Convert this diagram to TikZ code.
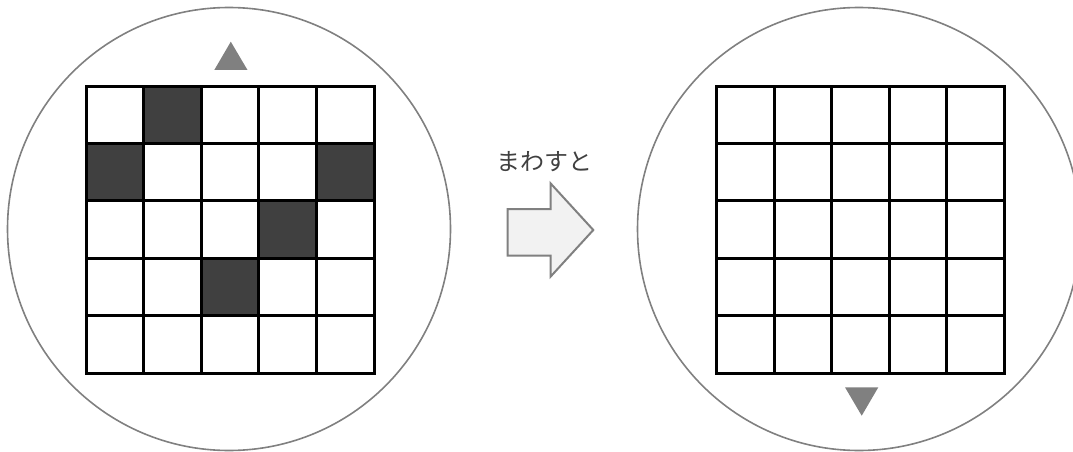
\documentclass[tikz,border=0pt]{standalone}
\usepackage{fontspec}
\newfontfamily\jpfont{Noto Sans CJK JP}
\definecolor{ringgray}{HTML}{808080}
\definecolor{cellgray}{HTML}{404040}
\definecolor{arrowfill}{HTML}{F2F2F2}
\definecolor{textgray}{HTML}{404040}
\begin{document}
\begin{tikzpicture}[x=1pt,y=-1pt,
  ring/.style={draw=ringgray,line width=1.6pt},
  gridline/.style={draw=black,line width=3pt,line cap=rect},
  darkcell/.style={fill=cellgray},
  marker/.style={fill=ringgray},
  bigarrow/.style={draw=ringgray,fill=arrowfill,line width=2pt,line join=miter}]
\useasboundingbox (0,0) rectangle (1073,452);
\begin{scope}
\clip (0,0) rectangle (1073,452);
% circles
\draw[ring] (229,229) circle (221.5);
\draw[ring] (859,229) circle (221.5);
% dark cells left grid
\foreach \r/\c in {0/1,1/0,1/4,2/3,3/2}{
  \fill[darkcell] (86+\c*57.6,86+\r*57.4) rectangle ++(57.6,57.4);
}
% left grid
\foreach \i in {0,...,5}{
  \draw[gridline] (86+\i*57.6,86) -- (86+\i*57.6,373);
  \draw[gridline] (86,86+\i*57.4) -- (374,86+\i*57.4);
}
% right grid
\foreach \i in {0,...,5}{
  \draw[gridline] (716.5+\i*57.5,86) -- (716.5+\i*57.5,373);
  \draw[gridline] (716.5,86+\i*57.4) -- (1004,86+\i*57.4);
}
% markers
\fill[marker] (214.3,70) -- (230.8,41.7) -- (247.5,70) -- cycle;
\fill[marker] (845,387.3) -- (861.7,415.7) -- (878.3,387.3) -- cycle;
% arrow
\draw[bigarrow] (507.5,209) -- (550.7,209) -- (550.7,183.5) -- (593.3,230) -- (550.7,276.5) -- (550.7,255.7) -- (507.5,255.7) -- cycle;
\end{scope}
\node[text=textgray,font=\jpfont\fontsize{24pt}{28pt}\selectfont,inner sep=0pt] (label) at (544,162) {まわすと};
\end{tikzpicture}
\end{document}
